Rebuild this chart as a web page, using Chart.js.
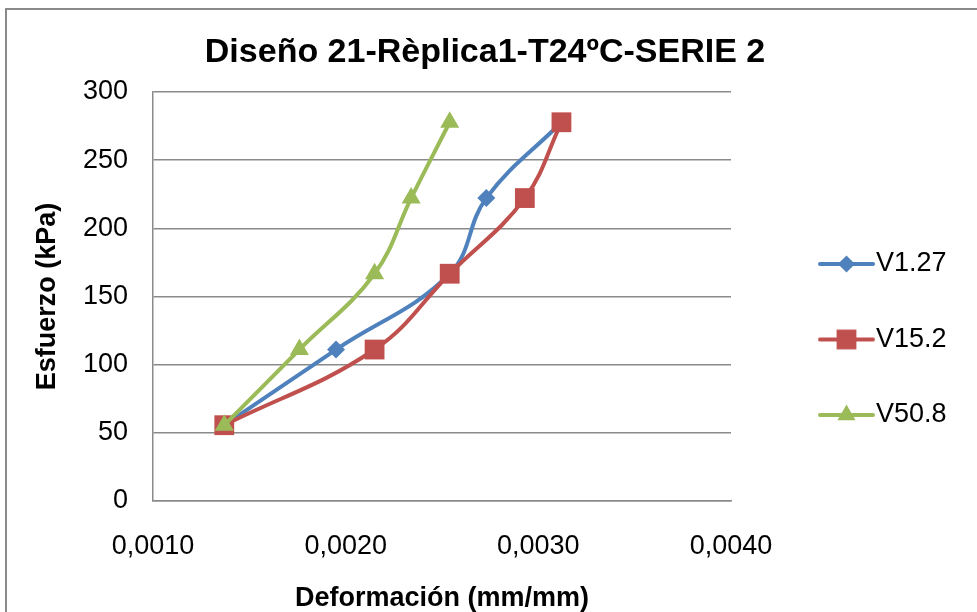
<!DOCTYPE html>
<html>
<head>
<meta charset="utf-8">
<title>Diseño 21</title>
<script src="https://cdn.jsdelivr.net/npm/chart.js@4.4.1/dist/chart.umd.min.js"></script>
<style>
  html, body { margin: 0; padding: 0; background: #fff; }
  #contenedor { width: 977px; height: 612px; position: relative; }
</style>
</head>
<body>
<div id="contenedor"><canvas id="grafico"></canvas></div>
<script>
// esfuerzo (kPa) de cada escalón de carga
var esfuerzo = [55.6, 111.1, 166.7, 222.2, 277.8];
// deformación (mm/mm) por serie
var defV127 = [0.00137, 0.00195, 0.00254, 0.00273, 0.00312];
var defV152 = [0.00137, 0.00215, 0.00254, 0.00293, 0.00312];
var defV508 = [0.00137, 0.00176, 0.00215, 0.00234, 0.00254];
var nombres = ['V1.27', 'V15.2', 'V50.8'];
var xTicks = [0.0010, 0.0020, 0.0030, 0.0040];
var yTicks = [0, 50, 100, 150, 200, 250, 300];

var azul = '#4F81BD', rojo = '#C0504D', verde = '#9BBB59';
var gris = '#8a8a8a';
var fuente = 'Liberation Sans, Arial, sans-serif';

function puntos(xs, ys) {
    return xs.map(function (x, i) { return { x: x, y: ys[i] }; });
}

// icono de leyenda: trozo de línea con el marcador en medio
function icono(color, estilo, r) {
    var c = document.createElement('canvas');
    c.width = 112; c.height = 30;
    var g = c.getContext('2d');
    g.strokeStyle = color;
    g.fillStyle = color;
    g.lineWidth = 4;
    g.lineCap = 'round';
    g.beginPath();
    g.moveTo(55, 15);
    g.lineTo(108, 15);
    g.stroke();
    var cx = 81.5, cy = 15;
    g.beginPath();
    if (estilo == 'rectRot') {
        g.moveTo(cx, cy - r); g.lineTo(cx + r, cy); g.lineTo(cx, cy + r); g.lineTo(cx - r, cy);
    } else if (estilo == 'rect') {
        var s = r * Math.SQRT1_2;
        g.rect(cx - s, cy - s, 2 * s, 2 * s);
    } else {
        g.moveTo(cx, cy - r);
        g.lineTo(cx + r * Math.sin(2 * Math.PI / 3), cy - r * Math.cos(2 * Math.PI / 3));
        g.lineTo(cx + r * Math.sin(4 * Math.PI / 3), cy - r * Math.cos(4 * Math.PI / 3));
    }
    g.closePath();
    g.fill();
    return c;
}

var marcadores = [
    { color: azul, estilo: 'rectRot', r: 9 },
    { color: rojo, estilo: 'rect', r: 14 },
    { color: verde, estilo: 'triangle', r: 11 }
];

function serie(i, xs) {
    var m = marcadores[i];
    return {
        label: nombres[i],
        data: puntos(xs, esfuerzo),
        showLine: true,
        tension: 0.4,
        borderColor: m.color,
        backgroundColor: m.color,
        borderWidth: 4,
        pointStyle: m.estilo,
        pointRadius: m.r,
        pointBorderWidth: 0,
        pointBackgroundColor: m.color,
        order: 3 - i
    };
}

// marco gris alrededor del gráfico
var marco = {
    id: 'marco',
    beforeDraw: function (chart) {
        var ctx = chart.ctx;
        ctx.save();
        ctx.fillStyle = '#fff';
        ctx.fillRect(0, 0, chart.width, chart.height);
        ctx.strokeStyle = gris;
        ctx.lineWidth = 2;
        ctx.strokeRect(6, 9, 1200, 1200);
        ctx.restore();
    }
};

// ancho fijo para la leyenda de la derecha
var anchoLeyenda = {
    id: 'anchoLeyenda',
    beforeLayout: function (chart) {
        var lg = chart.legend;
        if (lg && !lg._anchoFijo) {
            var fit = lg.fit;
            lg.fit = function () { fit.call(this); this.width = 239; };
            lg._anchoFijo = true;
        }
    }
};

var ctx = document.getElementById('grafico').getContext('2d');
var grafico = new Chart(ctx, {
    type: 'scatter',
    data: {
        datasets: [serie(0, defV127), serie(1, defV152), serie(2, defV508)]
    },
    options: {
        responsive: true,
        maintainAspectRatio: false,
        animation: false,
        layout: { padding: { top: 10, left: 0, right: 7, bottom: 0 } },
        scales: {
            x: {
                type: 'linear',
                min: xTicks[0],
                max: xTicks[xTicks.length - 1],
                afterBuildTicks: function (s) { s.ticks = xTicks.map(function (v) { return { value: v }; }); },
                afterFit: function (s) { s.height = 111; },
                grid: { display: false, drawTicks: false },
                border: { display: true, color: gris, width: 1.5 },
                ticks: {
                    color: '#000',
                    padding: 29,
                    maxRotation: 0,
                    font: { family: fuente, size: 27 },
                    callback: function (v) { return v.toFixed(4).replace('.', ','); }
                },
                title: {
                    display: true,
                    text: 'Deformación (mm/mm)',
                    color: '#000',
                    font: { family: fuente, size: 27, weight: 'bold' },
                    padding: { top: 0, bottom: -3 }
                }
            },
            y: {
                min: yTicks[0],
                max: yTicks[yTicks.length - 1],
                afterBuildTicks: function (s) { s.ticks = yTicks.map(function (v) { return { value: v }; }); },
                afterFit: function (s) { s.width = 153; },
                grid: { color: gris, lineWidth: 1.5, drawTicks: false },
                border: { display: true, color: gris, width: 1.5 },
                ticks: {
                    color: '#000',
                    padding: 25,
                    font: { family: fuente, size: 27 }
                },
                title: {
                    display: true,
                    text: 'Esfuerzo (kPa)',
                    color: '#000',
                    font: { family: fuente, size: 27, weight: 'bold' },
                    padding: { top: 31, bottom: 0 }
                }
            }
        },
        plugins: {
            title: {
                display: true,
                text: 'Diseño 21-Rèplica1-T24ºC-SERIE 2',
                color: '#000',
                font: { family: fuente, size: 34, weight: 'bold' },
                padding: { top: 22, bottom: 19.2 }
            },
            legend: {
                display: true,
                position: 'right',
                align: 'start',
                title: { display: true, text: '', font: { size: 10, lineHeight: 1 }, padding: { top: 182, bottom: 0 } },
                labels: {
                    usePointStyle: true,
                    pointStyleWidth: 83,
                    padding: 48.5,
                    color: '#000',
                    font: { family: fuente, size: 27 },
                    generateLabels: function (chart) {
                        return chart.data.datasets.map(function (ds, i) {
                            return {
                                text: ds.label,
                                pointStyle: icono(marcadores[i].color, marcadores[i].estilo, marcadores[i].r * (i == 1 ? 1 : 0.95)),
                                fillStyle: ds.borderColor,
                                strokeStyle: ds.borderColor,
                                fontColor: '#000',
                                lineWidth: 0,
                                hidden: false,
                                datasetIndex: i
                            };
                        });
                    }
                }
            },
            tooltip: { enabled: false }
        }
    },
    plugins: [marco, anchoLeyenda]
});
</script>
</body>
</html>
